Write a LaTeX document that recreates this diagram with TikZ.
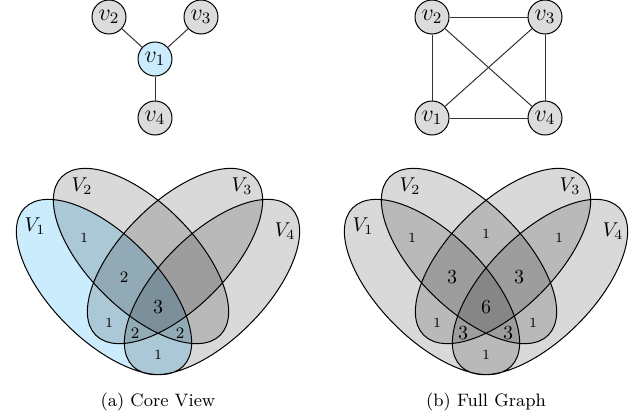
\documentclass[tikz,border=0pt]{standalone}
\usepackage{amsmath}
\usepackage{amssymb}
\usepackage{tikz}
\usetikzlibrary{calc}

\definecolor{coreblue}{RGB}{202,236,252}
\definecolor{vgray}{RGB}{220,220,220}

\newcommand{\setA}{(104,132) ellipse [x radius=112, y radius=53, rotate=-45]}
\newcommand{\setB}{(141,163) ellipse [x radius=112, y radius=53, rotate=-45]}
\newcommand{\setC}{(175,163) ellipse [x radius=112, y radius=53, rotate=45]}
\newcommand{\setD}{(212,132) ellipse [x radius=112, y radius=53, rotate=45]}

\begin{document}
\begin{tikzpicture}[x=0.5pt,y=0.5pt,line width=0.5pt,
      node/.style={circle,draw,fill=vgray,inner sep=0pt,minimum size=17pt,font=\large},
      shade/.style={fill=black,fill opacity=0.15},
      one/.style={font=\scriptsize},
      two/.style={font=\footnotesize},
      many/.style={font=\normalsize}]
      \useasboundingbox (0,0) rectangle (640,419);

      \node[node,fill=coreblue] (a1) at (155, 360) { $v_1$ };
      \node[node] (a2) at (109, 402) { $v_2$ };
      \node[node] (a3) at (201, 402) { $v_3$ };
      \node[node] (a4) at (155, 301) { $v_4$ };

      \node[node] (b1) at (432, 301) { $v_1$ };
      \node[node] (b2) at (432, 402) { $v_2$ };
      \node[node] (b3) at (545, 402) { $v_3$ };
      \node[node] (b4) at (545, 301) { $v_4$ };

      \path[draw=black!80]
      (a1) edge (a2)
      (a1) edge (a3)
      (a1) edge (a4)

      (b1) edge (b2)
      (b1) edge (b3)
      (b1) edge (b4)
      (b2) edge (b3)
      (b2) edge (b4)
      (b3) edge (b4)
      ;

      \fill[coreblue] \setA;
      \path[shade] \setB;
      \path[shade] \setC;
      \path[shade] \setD;
      \draw \setA \setB \setC \setD;

      \node (aV1) at ( 35, 193) { $V_1$ };
      \node (aV2) at ( 82, 233) { $V_2$ };
      \node (aV3) at (242, 233) { $V_3$ };
      \node (aV4) at (285, 188) { $V_4$ };

      \node[one]  (aAB)   at ( 84, 181) { 1 };
      \node[two]  (aABC)  at (124, 142) { 2 };
      \node[many] (aABCD) at (158, 112) { 3 };
      \node[one]  (aAC)   at (109,  96) { 1 };
      \node[two]  (aACD)  at (135,  86) { 2 };
      \node[two]  (aABD)  at (180,  86) { 2 };
      \node[one]  (aAD)   at (158,  64) { 1 };

      \begin{scope}[shift={(328,0)}]
      \path[shade] \setA;
      \path[shade] \setB;
      \path[shade] \setC;
      \path[shade] \setD;
      \draw \setA \setB \setC \setD;

      \node (bV1) at ( 35, 193) { $V_1$ };
      \node (bV2) at ( 82, 233) { $V_2$ };
      \node (bV3) at (242, 233) { $V_3$ };
      \node (bV4) at (285, 188) { $V_4$ };

      \node[one]  (bAB)   at ( 84, 181) { 1 };
      \node[one]  (bBC)   at (158, 185) { 1 };
      \node[one]  (bCD)   at (231, 181) { 1 };
      \node[many] (bABC)  at (124, 142) { 3 };
      \node[many] (bBCD)  at (191, 142) { 3 };
      \node[many] (bABCD) at (158, 112) { 6 };
      \node[one]  (bAC)   at (109,  96) { 1 };
      \node[many] (bACD)  at (135,  86) { 3 };
      \node[many] (bABD)  at (180,  86) { 3 };
      \node[one]  (bBD)   at (205,  96) { 1 };
      \node[one]  (bAD)   at (158,  64) { 1 };
      \end{scope}

      \node[font=\small] (capa) at (158, 17) { (a) Core View };
      \node[font=\small] (capb) at (486, 17) { (b) Full Graph };

      \end{tikzpicture}
\end{document}
